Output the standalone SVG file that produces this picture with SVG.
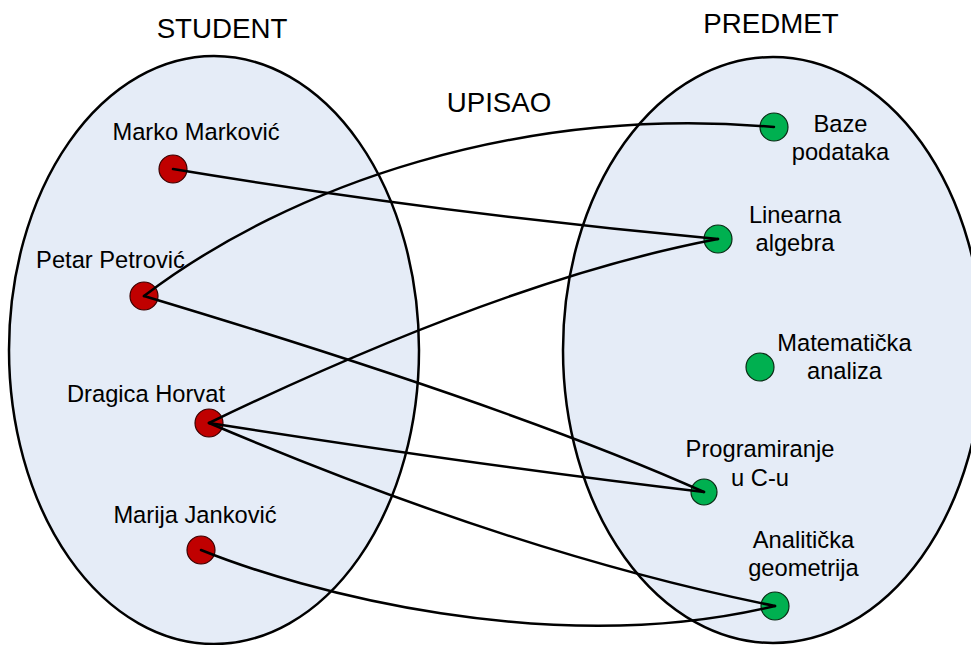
<svg xmlns="http://www.w3.org/2000/svg" width="971" height="645" viewBox="0 0 971 645">
  <style>
    .set { fill: #E5ECF7; stroke: #000; stroke-width: 2.5; }
    .title { font-family: "Liberation Sans", Arial, sans-serif; font-size: 27.7px; fill: #000; text-anchor: middle; }
    .lbl { font-family: "Liberation Sans", Arial, sans-serif; font-size: 23.7px; fill: #000; text-anchor: middle; }
    .student { fill: #C00000; stroke: #3a0000; stroke-width: 1.2; }
    .predmet { fill: #00B050; stroke: #0a2a14; stroke-width: 1.2; }
    .link { fill: none; stroke: #000; stroke-width: 2.5; stroke-linecap: round; }
  </style>

  <!-- set outlines -->
  <ellipse id="set-student" class="set" cx="214" cy="350" rx="205" ry="294"/>
  <ellipse id="set-predmet" class="set" cx="773" cy="350" rx="210" ry="293"/>

  <text class="title" x="222" y="38">STUDENT</text>
  <text class="title" x="771" y="33">PREDMET</text>
  <text class="title" x="499" y="112">UPISAO</text>

  <!-- students -->
  <g id="marko">
    <circle class="student" cx="173" cy="169" r="14"/>
    <text class="lbl" x="196" y="140">Marko Marković</text>
  </g>
  <g id="petar">
    <circle class="student" cx="144" cy="296" r="14"/>
    <text class="lbl" x="110.5" y="268">Petar Petrović</text>
  </g>
  <g id="dragica">
    <circle class="student" cx="209" cy="423" r="14"/>
    <text class="lbl" x="146" y="402">Dragica Horvat</text>
  </g>
  <g id="marija">
    <circle class="student" cx="201" cy="550" r="14"/>
    <text class="lbl" x="195" y="523">Marija Janković</text>
  </g>

  <!-- courses -->
  <g id="baze">
    <circle class="predmet" cx="774" cy="127" r="14"/>
    <text class="lbl" x="840.5" y="132">Baze</text>
    <text class="lbl" x="840.5" y="160">podataka</text>
  </g>
  <g id="linearna">
    <circle class="predmet" cx="718" cy="239" r="14"/>
    <text class="lbl" x="795" y="223">Linearna</text>
    <text class="lbl" x="795" y="251">algebra</text>
  </g>
  <g id="matematicka">
    <circle class="predmet" cx="760" cy="367" r="14"/>
    <text class="lbl" x="844.5" y="351">Matematička</text>
    <text class="lbl" x="844.5" y="379">analiza</text>
  </g>
  <g id="programiranje">
    <circle class="predmet" cx="704" cy="492" r="13"/>
    <text class="lbl" x="760" y="457">Programiranje</text>
    <text class="lbl" x="760" y="486">u C-u</text>
  </g>
  <g id="analiticka">
    <circle class="predmet" cx="775" cy="606" r="14"/>
    <text class="lbl" x="803.5" y="548">Analitička</text>
    <text class="lbl" x="803.5" y="576">geometrija</text>
  </g>

  <!-- enrolment links -->
  <g id="links">
    <path class="link" d="M173,169 Q445,214 718,239"/>
    <path class="link" d="M144,296 C290,185 520,105 774,127"/>
    <path class="link" d="M144,296 Q517,408 704,492"/>
    <path class="link" d="M209,423 Q510,278 718,239"/>
    <path class="link" d="M209,423 Q490,467 704,492"/>
    <path class="link" d="M209,423 Q519,555 775,606"/>
    <path class="link" d="M201,550 C300,590 550,660 775,606"/>
  </g>
</svg>
